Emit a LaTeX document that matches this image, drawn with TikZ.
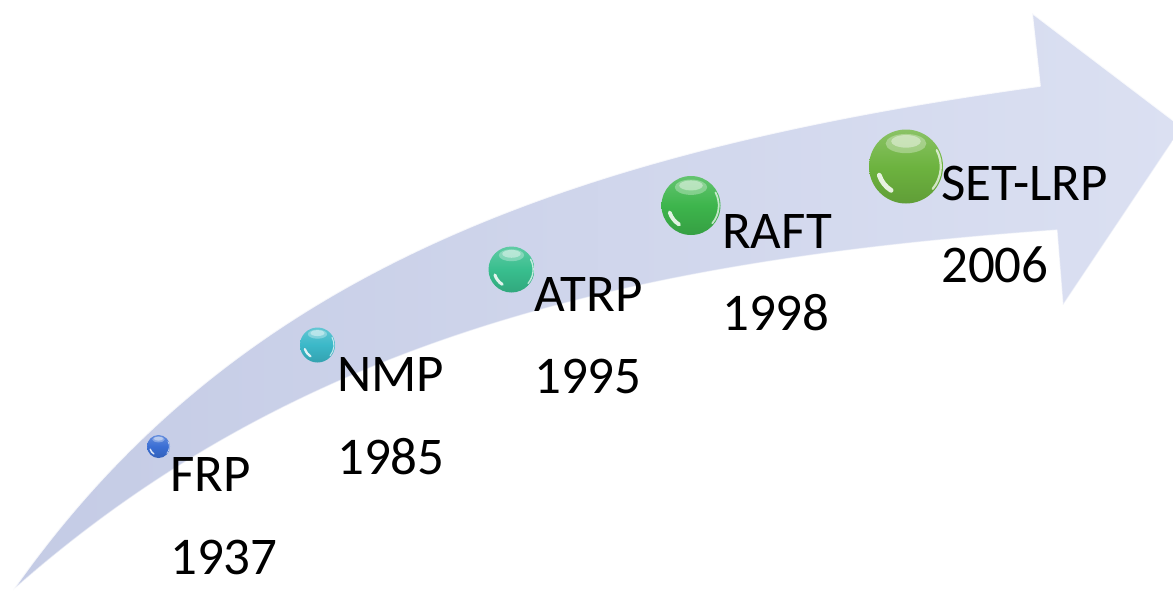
\documentclass[tikz,border=0pt]{standalone}
\usepackage{fontspec}
\setmainfont{Carlito}
\usetikzlibrary{fadings}
\begin{document}
\begin{tikzpicture}[x=1pt, y=-1pt,
  label/.style={anchor=base west, inner sep=0pt, font=\fontsize{53}{64}\selectfont, text=black},
  gem/.style n args={2}{circle, inner sep=0pt, minimum size=2*#2,
    top color=#1!80!white, bottom color=#1!88!black, middle color=#1,
    path picture={
      \begin{scope}[shift={(path picture bounding box.center)}, x=#2, y=#2]
        % soft reflection on the crown
        \fill[white, opacity=0.4] (0,0.68) ellipse (0.4 and 0.17);
        \fill[white, opacity=0.3] (0,0.62) ellipse (0.55 and 0.26);
        % bright streak along the lower-left rim
        \draw[white, opacity=0.85, line width=0.13*#2, line cap=round]
          (198:0.76) arc (198:238:0.76);
        % thin light rim on the right
        \draw[white, opacity=0.7, line width=0.06*#2, line cap=round]
          (28:0.94) arc (28:-40:0.94);
      \end{scope}}}
]
\definecolor{shaftA}{RGB}{196,203,229}
\definecolor{shaftB}{RGB}{219,224,242}
\definecolor{gemblue}{RGB}{58,110,212}
\definecolor{gemcyan}{RGB}{59,184,200}
\definecolor{gemteal}{RGB}{56,190,142}
\definecolor{gemgreen}{RGB}{61,181,76}
\definecolor{gemlime}{RGB}{109,179,63}

\useasboundingbox (0,0) rectangle (1173,592);
\clip (0,0) rectangle (1173,592);

% curved timeline arrow
\path[left color=shaftA, right color=shaftB]
  (13,590) .. controls (229,282) and (548,154) .. (1040,86)
  -- (1032,13) -- (1182,127) -- (1063,305) -- (1057,230)
  .. controls (637,260) and (300,336) .. (13,590) -- cycle;
\draw[white, opacity=0.8, line width=1.6pt, line join=round]
  (13,590) .. controls (229,282) and (548,154) .. (1040,86)
  -- (1032,13) -- (1182,127);
\draw[white, opacity=0.5, line width=1.2pt, line join=round]
  (1182,127) -- (1063,305) -- (1057,230)
  .. controls (637,260) and (300,336) .. (13,590);

% milestones
\node[gem={gemblue}{11.5pt}]  (frpball)  at (158.5,446.5) {};
\node[gem={gemcyan}{17.5pt}]  (nmpball)  at (317.5,345) {};
\node[gem={gemteal}{23pt}]    (atrpball) at (511.5,269.5) {};
\node[gem={gemgreen}{29.5pt}] (raftball) at (691,205.5) {};
\node[gem={gemlime}{37pt}]    (setball)  at (906,166.5) {};

\node[label] (frpname)  at (170,491.7) {FRP};
\node[label] (frpyear)  at (170,574)   {1937};
\node[label] (nmpname)  at (337,391.7) {NMP};
\node[label] (nmpyear)  at (337,474)   {1985};
\node[label] (atrpname) at (534,311.7) {ATRP};
\node[label] (atrpyear) at (534,393.5) {1995};
\node[label] (raftname) at (722,248.3) {RAFT};
\node[label] (raftyear) at (722,330.5) {1998};
\node[label] (setname)  at (941,200)   {SET-LRP};
\node[label] (setyear)  at (941,282)   {2006};
\end{tikzpicture}
\end{document}
